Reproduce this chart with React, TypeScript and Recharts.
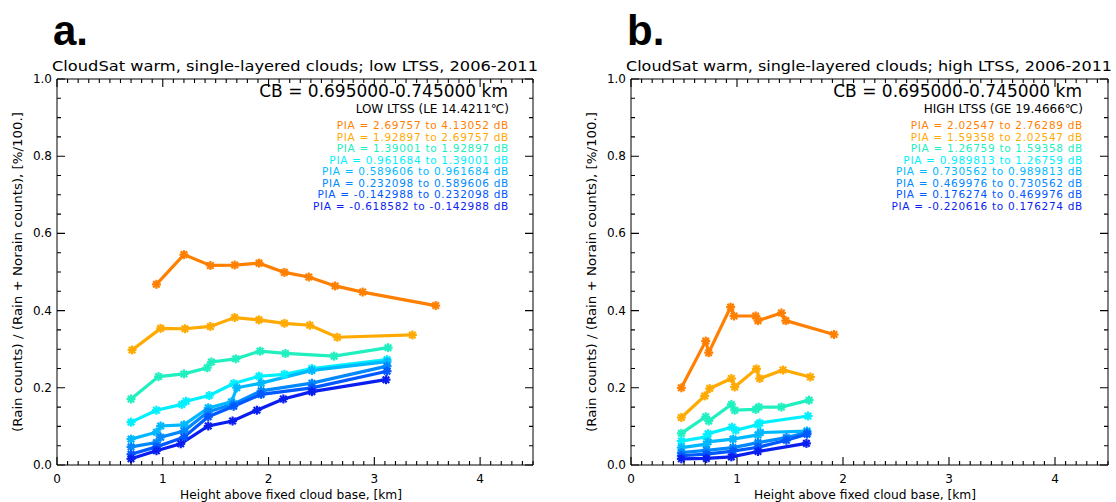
import React from "react"
import { LineChart, Line, XAxis, YAxis } from "recharts"

// PIA bin colours, strongest attenuation first
const colors = ["#FF7F00", "#FFAA00", "#20F0C0", "#00F0FF", "#00B8FF", "#0088FF", "#0058FF", "#0A1EF0"]

// Panel a: low LTSS  (x = height above cloud base [km], y = rain fraction)
const orangeA = [
  { x: 0.94, y: 0.468 }, { x: 1.2, y: 0.545 }, { x: 1.45, y: 0.517 }, { x: 1.68, y: 0.518 },
  { x: 1.91, y: 0.523 }, { x: 2.15, y: 0.499 }, { x: 2.38, y: 0.487 }, { x: 2.63, y: 0.464 },
  { x: 2.89, y: 0.448 }, { x: 3.58, y: 0.413 },
]
const yellowA = [
  { x: 0.71, y: 0.298 }, { x: 0.98, y: 0.354 }, { x: 1.21, y: 0.353 }, { x: 1.45, y: 0.359 },
  { x: 1.68, y: 0.382 }, { x: 1.91, y: 0.376 }, { x: 2.15, y: 0.367 }, { x: 2.39, y: 0.362 },
  { x: 2.65, y: 0.331 }, { x: 3.36, y: 0.337 },
]
const tealA = [
  { x: 0.7, y: 0.171 }, { x: 0.96, y: 0.229 }, { x: 1.2, y: 0.236 }, { x: 1.42, y: 0.252 },
  { x: 1.46, y: 0.267 }, { x: 1.69, y: 0.275 }, { x: 1.92, y: 0.295 }, { x: 2.16, y: 0.289 },
  { x: 2.62, y: 0.282 }, { x: 3.13, y: 0.304 },
]
const cyanA = [
  { x: 0.7, y: 0.111 }, { x: 0.94, y: 0.142 }, { x: 1.18, y: 0.157 }, { x: 1.22, y: 0.165 },
  { x: 1.44, y: 0.18 }, { x: 1.67, y: 0.211 }, { x: 1.91, y: 0.23 }, { x: 2.15, y: 0.235 },
  { x: 2.41, y: 0.25 }, { x: 3.12, y: 0.273 },
]
const skyA = [
  { x: 0.7, y: 0.067 }, { x: 0.94, y: 0.085 }, { x: 0.98, y: 0.101 }, { x: 1.2, y: 0.104 },
  { x: 1.43, y: 0.148 }, { x: 1.65, y: 0.164 }, { x: 1.7, y: 0.2 }, { x: 1.93, y: 0.212 },
  { x: 2.41, y: 0.245 }, { x: 3.12, y: 0.268 },
]
const dodgerA = [
  { x: 0.7, y: 0.047 }, { x: 0.94, y: 0.058 }, { x: 0.98, y: 0.072 }, { x: 1.2, y: 0.088 },
  { x: 1.43, y: 0.138 }, { x: 1.67, y: 0.158 }, { x: 1.93, y: 0.192 }, { x: 2.41, y: 0.212 },
  { x: 3.12, y: 0.256 },
]
const royalA = [
  { x: 0.7, y: 0.028 }, { x: 0.94, y: 0.047 }, { x: 1.2, y: 0.072 }, { x: 1.43, y: 0.125 },
  { x: 1.67, y: 0.152 }, { x: 1.93, y: 0.183 }, { x: 2.41, y: 0.2 }, { x: 3.12, y: 0.243 },
]
const blueA = [
  { x: 0.7, y: 0.016 }, { x: 0.94, y: 0.037 }, { x: 1.17, y: 0.055 }, { x: 1.43, y: 0.101 },
  { x: 1.66, y: 0.114 }, { x: 1.89, y: 0.142 }, { x: 2.14, y: 0.171 }, { x: 2.41, y: 0.19 },
  { x: 3.11, y: 0.221 },
]

// Panel b: high LTSS
const orangeB = [
  { x: 0.475, y: 0.2 }, { x: 0.705, y: 0.321 }, { x: 0.733, y: 0.291 }, { x: 0.94, y: 0.409 },
  { x: 0.972, y: 0.386 }, { x: 1.176, y: 0.386 }, { x: 1.198, y: 0.374 }, { x: 1.419, y: 0.394 },
  { x: 1.46, y: 0.374 }, { x: 1.915, y: 0.338 },
]
const yellowB = [
  { x: 0.475, y: 0.123 }, { x: 0.695, y: 0.179 }, { x: 0.742, y: 0.198 }, { x: 0.947, y: 0.224 },
  { x: 0.978, y: 0.202 }, { x: 1.183, y: 0.249 }, { x: 1.214, y: 0.224 }, { x: 1.434, y: 0.246 },
  { x: 1.692, y: 0.228 },
]
const tealB = [
  { x: 0.475, y: 0.082 }, { x: 0.705, y: 0.125 }, { x: 0.733, y: 0.114 }, { x: 0.947, y: 0.157 },
  { x: 0.978, y: 0.142 }, { x: 1.176, y: 0.144 }, { x: 1.205, y: 0.15 }, { x: 1.419, y: 0.15 },
  { x: 1.68, y: 0.168 },
]
const cyanB = [
  { x: 0.475, y: 0.062 }, { x: 0.711, y: 0.073 }, { x: 0.727, y: 0.081 }, { x: 0.953, y: 0.098 },
  { x: 0.988, y: 0.09 }, { x: 1.198, y: 0.105 }, { x: 1.214, y: 0.109 }, { x: 1.67, y: 0.127 },
]
const skyB = [
  { x: 0.475, y: 0.045 }, { x: 0.711, y: 0.054 }, { x: 0.727, y: 0.06 }, { x: 0.962, y: 0.067 },
  { x: 1.198, y: 0.078 }, { x: 1.22, y: 0.084 }, { x: 1.66, y: 0.088 },
]
const dodgerB = [
  { x: 0.475, y: 0.032 }, { x: 0.711, y: 0.038 }, { x: 0.962, y: 0.045 }, { x: 1.198, y: 0.058 },
  { x: 1.466, y: 0.071 }, { x: 1.66, y: 0.084 },
]
const royalB = [
  { x: 0.475, y: 0.024 }, { x: 0.711, y: 0.028 }, { x: 0.962, y: 0.036 }, { x: 1.198, y: 0.046 },
  { x: 1.466, y: 0.064 }, { x: 1.66, y: 0.08 },
]
const blueB = [
  { x: 0.475, y: 0.016 }, { x: 0.711, y: 0.017 }, { x: 0.947, y: 0.021 }, { x: 1.198, y: 0.035 },
  { x: 1.655, y: 0.056 },
]

const legendA = [
  "PIA = 2.69757 to 4.13052 dB",
  "PIA = 1.92897 to 2.69757 dB",
  "PIA = 1.39001 to 1.92897 dB",
  "PIA = 0.961684 to 1.39001 dB",
  "PIA = 0.589606 to 0.961684 dB",
  "PIA = 0.232098 to 0.589606 dB",
  "PIA = -0.142988 to 0.232098 dB",
  "PIA = -0.618582 to -0.142988 dB",
]
const legendB = [
  "PIA = 2.02547 to 2.76289 dB",
  "PIA = 1.59358 to 2.02547 dB",
  "PIA = 1.26759 to 1.59358 dB",
  "PIA = 0.989813 to 1.26759 dB",
  "PIA = 0.730562 to 0.989813 dB",
  "PIA = 0.469976 to 0.730562 dB",
  "PIA = 0.176274 to 0.469976 dB",
  "PIA = -0.220616 to 0.176274 dB",
]

const xMajor = [0, 1, 2, 3, 4]
const yMajor = [0, 0.2, 0.4, 0.6, 0.8, 1.0]
const xMinor = Array.from({ length: 46 }, (_, i) => i / 10)
const yMinor = Array.from({ length: 21 }, (_, i) => i / 20)

const X_MAX = 4.5
const font = "DejaVu Sans, sans-serif"

// plot frame inside each 558x502 chart (follows from margins + axis sizes below)
const PLOT_TOP = 79
const PLOT_BOTTOM = 465

const isMajor = (v: number, list: number[]) => list.some((m) => Math.abs(m - v) < 1e-6)

const BottomLabel = (props: any) => {
  const { x, payload } = props
  return (
    <text x={x} y={PLOT_BOTTOM + 18} textAnchor="middle" fontSize={12} fontFamily={font} fill="#000">
      {payload.value}
    </text>
  )
}
const LeftLabel = (props: any) => {
  const { y, payload, axisX } = props
  return (
    <text x={axisX - 5} y={y + 4} textAnchor="end" fontSize={12} fontFamily={font} fill="#000">
      {payload.value.toFixed(1)}
    </text>
  )
}

// IDL psym=2 style asterisk
const Star = (props: any) => {
  const { cx, cy, stroke, index } = props
  if (cx == null || cy == null) return <g key={index} />
  const r = 4.5
  const d = r * 0.72
  return (
    <g key={index} stroke={stroke} strokeWidth={2.2}>
      <line x1={cx - r} y1={cy} x2={cx + r} y2={cy} />
      <line x1={cx} y1={cy - r} x2={cx} y2={cy + r} />
      <line x1={cx - d} y1={cy - d} x2={cx + d} y2={cy + d} />
      <line x1={cx - d} y1={cy + d} x2={cx + d} y2={cy - d} />
    </g>
  )
}

function Panel({ series, left, right }: { series: { x: number; y: number }[][]; left: number; right: number }) {
  // left/right = pixel positions of the plot frame inside the 558-wide chart
  const margin = { top: PLOT_TOP - 2, right: 558 - right - 2, bottom: 502 - PLOT_BOTTOM - 37, left: left - 40 }
  return (
    <LineChart width={558} height={502} margin={margin}>
      <XAxis xAxisId="b" dataKey="x" type="number" domain={[0, X_MAX]} ticks={xMajor} interval={0}
        height={37} tickLine={false} axisLine={{ stroke: "#000" }} tick={(p: any) => <BottomLabel {...p} />} />
      <XAxis xAxisId="t" orientation="top" dataKey="x" type="number" domain={[0, X_MAX]} ticks={xMajor}
        height={2} tickLine={false} axisLine={{ stroke: "#000" }} tick={false} />
      <YAxis yAxisId="l" type="number" domain={[0, 1]} ticks={yMajor} interval={0}
        width={40} tickLine={false} axisLine={{ stroke: "#000" }} tick={(p: any) => <LeftLabel {...p} axisX={left} />} />
      <YAxis yAxisId="r" orientation="right" type="number" domain={[0, 1]} ticks={yMajor}
        width={2} tickLine={false} axisLine={{ stroke: "#000" }} tick={false} />
      {series.map((s, i) => (
        <Line key={i} xAxisId="b" yAxisId="l" data={s} dataKey="y" type="linear" stroke={colors[i]}
          strokeWidth={3.2} dot={(p: any) => <Star {...p} key={p.index} />} activeDot={false} isAnimationActive={false} />
      ))}
    </LineChart>
  )
}

// inward IDL-style tick marks on all four sides of a plot frame (page pixels)
function FrameTicks({ left, right }: { left: number; right: number }) {
  const sx = (v: number) => left + (v / X_MAX) * (right - left)
  const sy = (v: number) => PLOT_BOTTOM - v * (PLOT_BOTTOM - PLOT_TOP)
  let d = ""
  xMinor.forEach((v) => {
    const len = isMajor(v, xMajor) ? 8 : 4
    const x = sx(v)
    d += `M${x},${PLOT_BOTTOM}V${PLOT_BOTTOM - len}M${x},${PLOT_TOP}V${PLOT_TOP + len}`
  })
  yMinor.forEach((v) => {
    const len = isMajor(v, yMajor) ? 8 : 4
    const y = sy(v)
    d += `M${left},${y}H${left + len}M${right},${y}H${right - len}`
  })
  return <path d={d} stroke="#000" strokeWidth={1.1} fill="none" />
}

function Texts({ dx, tag, title, header, legend }: { dx: number; tag: string; title: string; header: string; legend: string[] }) {
  return (
    <g fontFamily={font} fill="#000">
      <text x={53 + dx} y={45} fontSize={42} fontWeight="bold" fontFamily="Liberation Sans, Arial, sans-serif">{tag}</text>
      <text x={52 + dx} y={71} fontSize={14} textLength={486} lengthAdjust="spacingAndGlyphs">{title}</text>
      <text x={508 + dx} y={97} fontSize={17} textAnchor="end">CB = 0.695000-0.745000 km</text>
      <text x={509 + dx} y={112.5} fontSize={12} textAnchor="end">{header}</text>
      {legend.map((t, i) => (
        <text key={i} x={509 + dx} y={129 + i * 11.55} fontSize={10.5} letterSpacing={0.7} textAnchor="end" fill={colors[i]}>
          {t}
        </text>
      ))}
      <text x={180 + dx} y={499} fontSize={12} textLength={222} lengthAdjust="spacingAndGlyphs">Height above fixed cloud base, [km]</text>
      <text x={0} y={0} fontSize={13} textAnchor="middle" textLength={320} lengthAdjust="spacingAndGlyphs"
        transform={`translate(${22 + dx},272) rotate(-90)`}>
        (Rain counts) / (Rain + Norain counts), [%/100.]
      </text>
    </g>
  )
}

export default function App() {
  const seriesA = [orangeA, yellowA, tealA, cyanA, skyA, dodgerA, royalA, blueA]
  const seriesB = [orangeB, yellowB, tealB, cyanB, skyB, dodgerB, royalB, blueB]
  return (
    <div style={{ position: "absolute", left: 0, top: 0, width: 1116, height: 502, background: "#fff", overflow: "hidden" }}>
      <div style={{ position: "absolute", left: 0, top: 0 }}>
        <Panel series={seriesA} left={57} right={533} />
      </div>
      <div style={{ position: "absolute", left: 558, top: 0 }}>
        <Panel series={seriesB} left={73} right={550} />
      </div>
      <svg width={1116} height={502} style={{ position: "absolute", left: 0, top: 0, pointerEvents: "none" }}>
        <FrameTicks left={57} right={533} />
        <FrameTicks left={631} right={1108} />
        <Texts dx={0} tag="a." title="CloudSat warm, single-layered clouds; low LTSS, 2006-2011"
          header="LOW LTSS (LE 14.4211℃)" legend={legendA} />
        <Texts dx={574} tag="b." title="CloudSat warm, single-layered clouds; high LTSS, 2006-2011"
          header="HIGH LTSS (GE 19.4666℃)" legend={legendB} />
      </svg>
    </div>
  )
}
